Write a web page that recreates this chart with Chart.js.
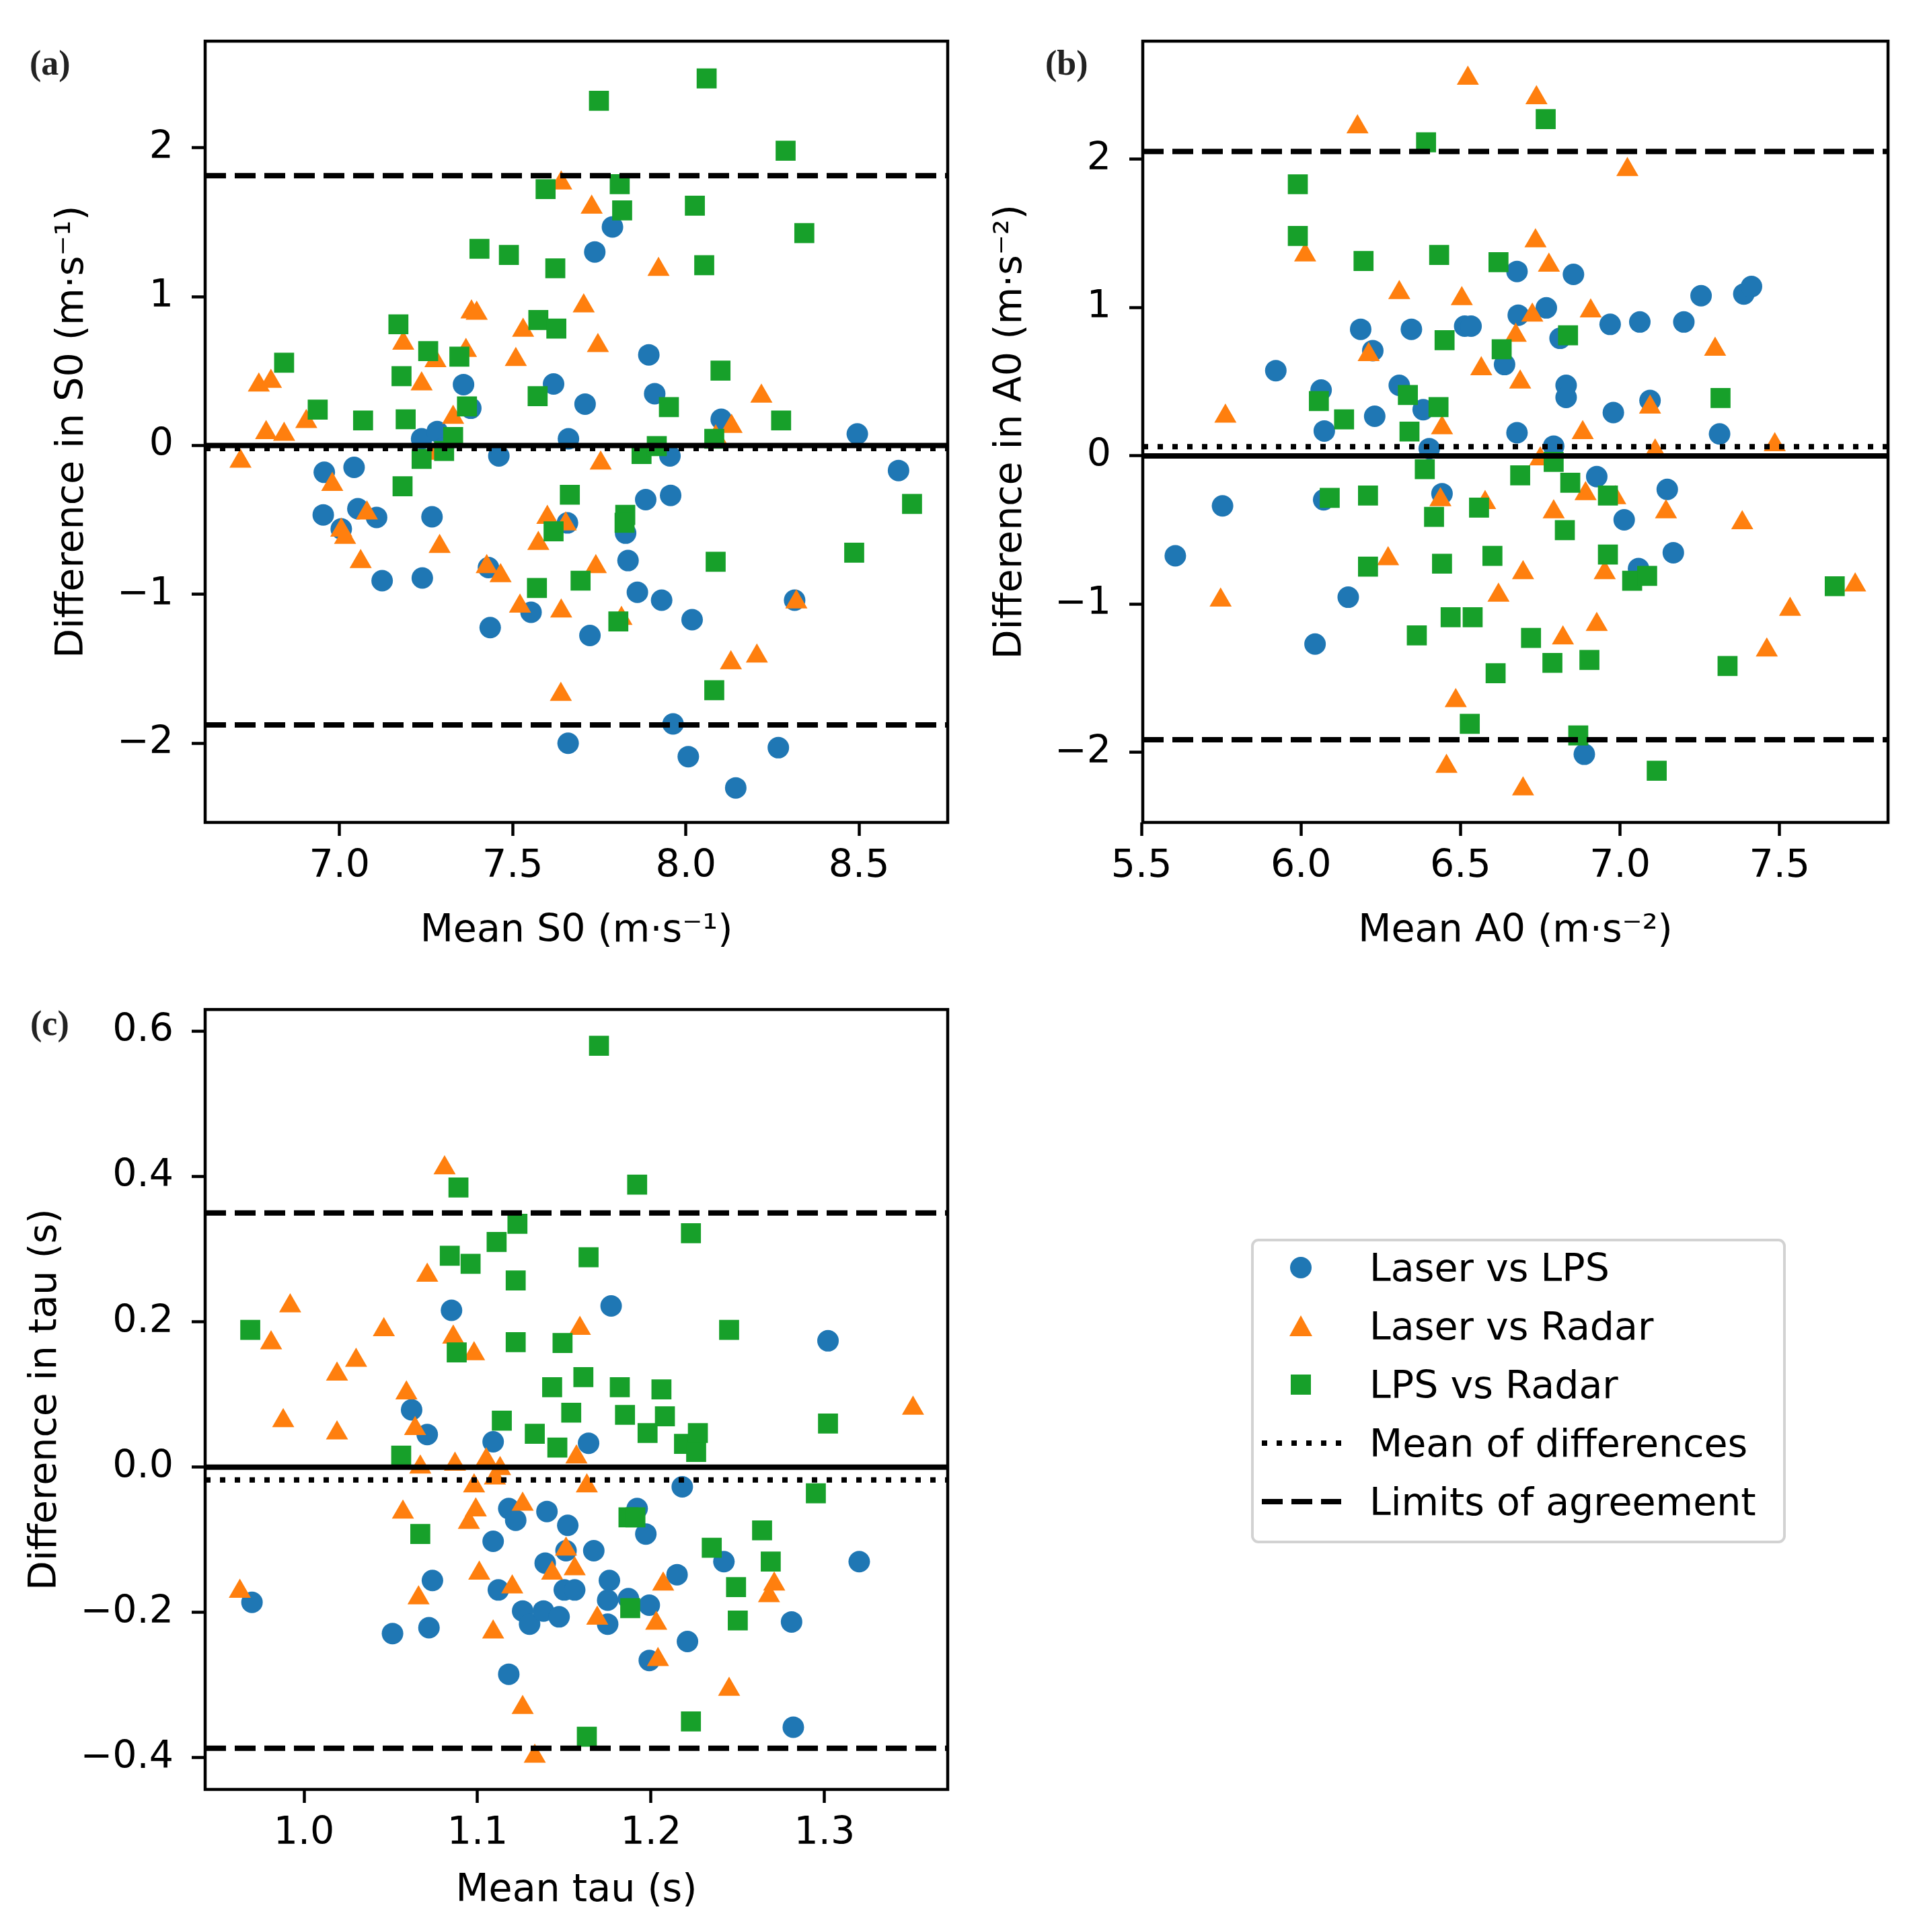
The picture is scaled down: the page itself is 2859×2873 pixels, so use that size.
<!DOCTYPE html>
<html>
<head>
<meta charset="utf-8">
<script src="https://cdn.jsdelivr.net/npm/chart.js@4.4.1/dist/chart.umd.min.js"></script>
<style>
  body { margin: 0; background: #fff; }
  #page { position: relative; width: 2859px; height: 2873px; overflow: hidden; background: #fff; }
  .panel { position: absolute; }
  .tag { position: absolute; font-family: "Liberation Serif", serif; font-weight: bold; font-size: 52px; line-height: 52px; color: #222; }
  #legend { position: absolute; left: 1860px; top: 1842px; width: 787px; height: 445px;
            border: 4px solid #d2d2d2; border-radius: 11px; background: #fff; }
  .row { position: absolute; left: 0; height: 70px; font-family: "DejaVu Sans", sans-serif; font-size: 57px; line-height: 70px; color: #000; white-space: nowrap; }
  .row svg { position: absolute; left: 8px; top: 0; }
  .row span { position: absolute; left: 172px; top: 0; }
</style>
</head>
<body>
<div id="page">
  <div class="panel" style="left:0;top:0"><canvas id="chartA" width="1430" height="1440"></canvas></div>
  <div class="panel" style="left:1430px;top:0"><canvas id="chartB" width="1429" height="1440"></canvas></div>
  <div class="panel" style="left:0;top:1440px"><canvas id="chartC" width="1430" height="1433"></canvas></div>
  <div class="tag" style="left:44px;top:68px">(a)</div>
  <div class="tag" style="left:1554px;top:68px">(b)</div>
  <div class="tag" style="left:45px;top:1496px">(c)</div>
  <div id="legend"></div>
</div>
<script>
// Series names and colours (matplotlib tab10)
const seriesNames = ['Laser vs LPS', 'Laser vs Radar', 'LPS vs Radar'];
const lineNames = ['Mean of differences', 'Limits of agreement'];
const blue = '#1f77b4', orange = '#ff7f0e', green = '#17a02a';

// ---- Panel (a): S0 ----
const laserLpsA = [[6.956,-0.18],[6.953,-0.466],[7.042,-0.147],[7.005,-0.56],[7.053,-0.425],[7.107,-0.483],
  [7.123,-0.908],[7.239,-0.89],[7.267,-0.479],[7.237,0.045],[7.282,0.094],[7.30,-0.016],[7.358,0.409],
  [7.379,0.25],[7.46,-0.07],[7.435,-1.223],[7.43,-0.82],[7.553,-1.12],[7.618,0.413],[7.658,-0.52],
  [7.661,0.045],[7.66,-2.0],[7.709,0.278],[7.723,-1.276],[7.737,1.30],[7.788,1.468],[7.826,-0.589],
  [7.833,-0.773],[7.86,-0.986],[7.884,-0.364],[7.893,0.609],[7.91,0.348],[7.93,-1.039],[7.954,-0.07],
  [7.956,-0.335],[7.963,-1.87],[8.007,-2.09],[8.018,-1.17],[8.102,0.176],[8.144,-2.30],[8.267,-2.03],
  [8.314,-1.039],[8.495,0.078],[8.614,-0.168]];
const laserRadarA = [[6.714,-0.106],[6.767,0.405],[6.802,0.43],[6.788,0.086],[6.84,0.074],[6.904,0.16],
  [6.979,-0.262],[7.005,-0.569],[7.016,-0.618],[7.061,-0.78],[7.079,-0.454],[7.184,0.687],[7.237,0.413],
  [7.277,0.569],[7.289,-0.679],[7.279,-0.053],[7.328,0.188],[7.365,0.638],[7.381,0.896],[7.396,0.888],
  [7.425,-0.814],[7.465,-0.875],[7.509,0.577],[7.53,0.773],[7.521,-1.08],[7.574,-0.658],[7.60,-0.483],
  [7.64,1.763],[7.64,-1.112],[7.653,-0.528],[7.639,-1.673],[7.705,0.937],[7.728,1.60],[7.746,0.671],
  [7.754,-0.119],[7.74,-0.814],[7.814,-1.162],[7.921,1.182],[8.086,0.057],[8.132,0.127],[8.13,-1.46],
  [8.205,-1.415],[8.218,0.331],[8.319,-1.051]];
const lpsRadarA = [[6.84,0.556],[6.937,0.241],[7.068,0.168],[7.17,0.814],[7.179,0.466],[7.191,0.176],
  [7.182,-0.274],[7.256,0.634],[7.237,-0.09],[7.302,-0.037],[7.346,0.597],[7.368,0.262],[7.328,0.057],
  [7.404,1.321],[7.489,1.28],[7.572,0.331],[7.574,0.843],[7.57,-0.957],[7.595,1.722],[7.623,1.19],
  [7.626,0.785],[7.618,-0.577],[7.665,-0.331],[7.696,-0.908],[7.749,2.315],[7.809,1.755],[7.816,1.579],
  [7.825,-0.466],[7.823,-0.519],[7.805,-1.182],[7.872,-0.057],[7.916,-0.004],[7.951,0.258],[8.026,1.611],
  [8.06,2.466],[8.053,1.211],[8.082,0.045],[8.10,0.503],[8.086,-0.781],[8.082,-1.644],[8.288,1.98],
  [8.275,0.168],[8.342,1.427],[8.486,-0.72],[8.653,-0.393]];
const meanA = -0.02, limitsA = [1.812, -1.877];
const xRangeA = [6.612, 8.756], yRangeA = [-2.532, 2.716];
const xTicksA = [7.0, 7.5, 8.0, 8.5], xLabelsA = ['7.0', '7.5', '8.0', '8.5'];
const yTicksA = [-2, -1, 0, 1, 2], yLabelsA = ['\u22122', '\u22121', '0', '1', '2'];

// ---- Panel (b): A0 ----
const laserLpsB = [[5.606,-0.674],[5.754,-0.337],[5.921,0.575],[6.063,0.444],[6.073,0.168],[6.071,-0.296],
  [6.044,-1.269],[6.148,-0.953],[6.187,0.854],[6.225,0.71],[6.231,0.267],[6.308,0.476],[6.346,0.854],
  [6.383,0.312],[6.402,0.049],[6.442,-0.255],[6.513,0.875],[6.533,0.875],[6.638,0.616],[6.677,1.244],
  [6.681,0.949],[6.677,0.156],[6.769,0.998],[6.792,0.066],[6.812,0.793],[6.831,0.476],[6.831,0.394],
  [6.854,1.224],[6.888,-2.012],[6.927,-0.14],[6.969,0.887],[6.979,0.292],[7.013,-0.431],[7.062,0.903],
  [7.058,-0.76],[7.094,0.374],[7.148,-0.226],[7.167,-0.653],[7.20,0.903],[7.254,1.08],[7.312,0.148],
  [7.388,1.092],[7.412,1.142]];
const laserRadarB = [[5.748,-0.973],[5.763,0.267],[6.013,1.355],[6.177,2.218],[6.212,0.682],[6.273,-0.694],
  [6.308,1.101],[6.442,0.189],[6.437,-0.296],[6.456,-2.094],[6.485,-1.651],[6.504,1.06],[6.523,2.546],
  [6.565,0.587],[6.577,-0.316],[6.619,-0.94],[6.673,0.813],[6.687,0.497],[6.696,-0.788],[6.696,-2.246],
  [6.725,0.949],[6.735,1.45],[6.738,2.415],[6.75,-0.021],[6.777,1.285],[6.792,-0.378],[6.821,-1.228],
  [6.883,0.156],[6.892,-0.255],[6.908,0.977],[6.927,-1.138],[6.952,-0.788],[6.985,-0.283],[7.023,1.93],
  [7.094,0.329],[7.11,0.033],[7.144,-0.378],[7.298,0.719],[7.383,-0.452],[7.46,-1.31],[7.485,0.074],
  [7.533,-1.035],[7.737,-0.871]];
const lpsRadarB = [[5.99,1.832],[5.99,1.483],[6.056,0.37],[6.09,-0.283],[6.135,0.246],[6.196,1.314],
  [6.21,-0.267],[6.21,-0.747],[6.335,0.411],[6.34,0.164],[6.363,-1.211],[6.388,-0.09],[6.392,2.115],
  [6.417,-0.411],[6.433,1.355],[6.431,0.329],[6.442,-0.727],[6.45,0.78],[6.469,-1.088],[6.529,-1.807],
  [6.538,-1.088],[6.558,-0.349],[6.60,-0.674],[6.61,-1.466],[6.619,1.306],[6.629,0.719],[6.687,-0.131],
  [6.721,-1.228],[6.767,2.271],[6.788,-1.396],[6.792,-0.041],[6.827,-0.501],[6.837,0.813],[6.844,-0.181],
  [6.869,-1.885],[6.904,-1.376],[6.962,-0.267],[6.962,-0.665],[7.038,-0.842],[7.085,-0.809],[7.115,-2.123],
  [7.315,0.39],[7.337,-1.417],[7.673,-0.879]];
const meanB = 0.062, limitsB = [2.053, -1.914];
const xRangeB = [5.504, 7.84], yRangeB = [-2.472, 2.797];
const xTicksB = [5.5, 6.0, 6.5, 7.0, 7.5], xLabelsB = ['5.5', '6.0', '6.5', '7.0', '7.5'];
const yTicksB = [-2, -1, 0, 1, 2], yLabelsB = ['\u22122', '\u22121', '0', '1', '2'];

// ---- Panel (c): tau ----
const laserLpsC = [[0.970,-0.186],[1.051,-0.229],[1.062,0.079],[1.071,0.045],[1.074,-0.156],[1.072,-0.221],
  [1.085,0.216],[1.109,0.035],[1.109,-0.102],[1.112,-0.169],[1.118,-0.285],[1.118,-0.057],[1.122,-0.073],
  [1.126,-0.198],[1.130,-0.216],[1.138,-0.198],[1.139,-0.132],[1.140,-0.061],[1.147,-0.206],[1.152,-0.08],
  [1.150,-0.169],[1.156,-0.169],[1.151,-0.115],[1.164,0.033],[1.167,-0.115],[1.175,-0.216],[1.176,-0.156],
  [1.175,-0.183],[1.177,0.222],[1.187,-0.181],[1.192,-0.057],[1.197,-0.092],[1.199,-0.19],[1.199,-0.266],
  [1.215,-0.148],[1.218,-0.027],[1.221,-0.24],[1.242,-0.13],[1.281,-0.213],[1.282,-0.358],[1.302,0.174],
  [1.320,-0.13]];
const laserRadarC = [[0.963,-0.171],[0.981,0.171],[0.988,0.064],[0.992,0.222],[1.019,0.128],[1.019,0.047],
  [1.030,0.147],[1.046,0.189],[1.059,0.102],[1.057,-0.062],[1.064,0.053],[1.067,0.0],[1.066,-0.18],
  [1.071,0.264],[1.081,0.412],[1.086,0.179],[1.087,0.004],[1.098,0.156],[1.098,-0.026],[1.095,-0.076],
  [1.099,-0.059],[1.101,-0.146],[1.105,0.01],[1.109,-0.227],[1.113,-0.002],[1.11,-0.015],[1.120,-0.165],
  [1.126,-0.051],[1.126,-0.331],[1.133,-0.398],[1.143,-0.146],[1.151,-0.113],[1.156,-0.14],[1.157,0.014],
  [1.159,0.191],[1.163,-0.026],[1.169,-0.208],[1.203,-0.215],[1.204,-0.265],[1.207,-0.161],[1.245,-0.306],
  [1.268,-0.177],[1.271,-0.161],[1.351,0.081]];
const lpsRadarC = [[0.969,0.189],[1.056,0.016],[1.067,-0.092],[1.084,0.291],[1.088,0.158],[1.089,0.385],
  [1.096,0.28],[1.111,0.31],[1.114,0.064],[1.123,0.335],[1.122,0.257],[1.122,0.172],[1.133,0.046],
  [1.143,0.11],[1.146,0.027],[1.149,0.171],[1.154,0.075],[1.161,0.124],[1.163,-0.371],[1.164,0.289],
  [1.170,0.58],[1.182,0.11],[1.185,0.072],[1.187,-0.069],[1.191,-0.069],[1.188,-0.194],[1.192,0.389],
  [1.198,0.047],[1.206,0.107],[1.208,0.07],[1.219,0.032],[1.223,0.322],[1.223,-0.35],[1.226,0.021],
  [1.227,0.047],[1.235,-0.111],[1.245,0.189],[1.249,-0.165],[1.250,-0.211],[1.264,-0.087],[1.269,-0.13],
  [1.295,-0.036],[1.302,0.06]];
const meanC = -0.0175, limitsC = [0.350, -0.387];
const xRangeC = [0.943, 1.371], yRangeC = [-0.4436, 0.630];
const xTicksC = [1.0, 1.1, 1.2, 1.3], xLabelsC = ['1.0', '1.1', '1.2', '1.3'];
const yTicksC = [-0.4, -0.2, 0.0, 0.2, 0.4, 0.6], yLabelsC = ['\u22120.4', '\u22120.2', '0.0', '0.2', '0.4', '0.6'];

const FONT = { family: 'DejaVu Sans', size: 57 };

// draws the four spines like matplotlib
const framePlugin = {
  id: 'frame',
  afterDatasetsDraw(chart) {
    const { ctx, chartArea: a } = chart;
    ctx.save();
    ctx.strokeStyle = '#000';
    ctx.lineWidth = 4.5;
    ctx.strokeRect(a.left, a.top, a.right - a.left, a.bottom - a.top);
    ctx.restore();
  }
};

function pts(list) {
  return list.map(p => ({ x: p[0], y: p[1] }));
}

function hline(xr, y, width, dash, order) {
  return {
    data: [{ x: xr[0], y: y }, { x: xr[1], y: y }],
    showLine: true, borderColor: '#000', borderWidth: width, borderDash: dash,
    borderCapStyle: 'butt', pointRadius: 0, order: order
  };
}

function markers(list, color, style, radius, order) {
  return {
    data: pts(list), backgroundColor: color, borderColor: color,
    pointStyle: style, pointRadius: radius, pointBorderWidth: 0, borderWidth: 0, order: order
  };
}

function makePanel(id, p) {
  const tickGrid = { display: true, drawOnChartArea: false, drawTicks: true, tickLength: 20, tickWidth: 4.5, tickColor: '#000', color: '#000' };
  new Chart(document.getElementById(id), {
    type: 'scatter',
    data: {
      datasets: [
        hline(p.xr, 0, 8, [], 0),
        hline(p.xr, p.mean, 8, [8, 14], 0),
        hline(p.xr, p.limits[0], 8, [31, 13], 0),
        hline(p.xr, p.limits[1], 8, [31, 13], 0),
        markers(p.lpsRadar, green, 'rect', 21, 1),
        markers(p.laserRadar, orange, 'triangle', 19, 2),
        markers(p.laserLps, blue, 'circle', 16, 3)
      ]
    },
    options: {
      responsive: false,
      animation: false,
      devicePixelRatio: 1,
      layout: { padding: p.pad },
      plugins: { legend: { display: false }, tooltip: { enabled: false } },
      scales: {
        x: {
          type: 'linear', position: 'bottom', min: p.xr[0], max: p.xr[1],
          afterFit: s => { s.height = p.xH; },
          afterBuildTicks: s => { s.ticks = p.xTicks.map(v => ({ value: v })); },
          ticks: { callback: (v, i) => p.xLabels[i], font: FONT, color: '#000', padding: 12, maxRotation: 0, autoSkip: false },
          grid: tickGrid,
          border: { display: false },
          title: { display: true, text: p.xTitle, font: FONT, color: '#000', padding: { top: 0, bottom: p.xTitlePad } }
        },
        y: {
          type: 'linear', position: 'left', min: p.yr[0], max: p.yr[1],
          afterFit: s => { s.width = p.yW; },
          afterBuildTicks: s => { s.ticks = p.yTicks.map(v => ({ value: v })); },
          ticks: { callback: (v, i) => p.yLabels[i], font: FONT, color: '#000', padding: 27, autoSkip: false },
          grid: tickGrid,
          border: { display: false },
          title: { display: true, text: p.yTitle, font: FONT, color: '#000', padding: { top: p.yTitlePad, bottom: 0 } }
        }
      }
    },
    plugins: [framePlugin]
  });
}

makePanel('chartA', {
  laserLps: laserLpsA, laserRadar: laserRadarA, lpsRadar: lpsRadarA,
  mean: meanA, limits: limitsA, xr: xRangeA, yr: yRangeA,
  xTicks: xTicksA, xLabels: xLabelsA, yTicks: yTicksA, yLabels: yLabelsA,
  xTitle: 'Mean S0 (m\u00b7s\u207b\u00b9)', yTitle: 'Difference in S0 (m\u00b7s\u207b\u00b9)',
  pad: { left: 0, top: 42, right: 12, bottom: 0 }, xH: 217, yW: 305, xTitlePad: 21, yTitlePad: 74
});

makePanel('chartB', {
  laserLps: laserLpsB, laserRadar: laserRadarB, lpsRadar: lpsRadarB,
  mean: meanB, limits: limitsB, xr: xRangeB, yr: yRangeB,
  xTicks: xTicksB, xLabels: xLabelsB, yTicks: yTicksB, yLabels: yLabelsB,
  xTitle: 'Mean A0 (m\u00b7s\u207b\u00b2)', yTitle: 'Difference in A0 (m\u00b7s\u207b\u00b2)',
  pad: { left: 0, top: 42, right: 52, bottom: 0 }, xH: 217, yW: 269, xTitlePad: 21, yTitlePad: 39
});

makePanel('chartC', {
  laserLps: laserLpsC, laserRadar: laserRadarC, lpsRadar: lpsRadarC,
  mean: meanC, limits: limitsC, xr: xRangeC, yr: yRangeC,
  xTicks: xTicksC, xLabels: xLabelsC, yTicks: yTicksC, yLabels: yLabelsC,
  xTitle: 'Mean tau (s)', yTitle: 'Difference in tau (s)',
  pad: { left: 0, top: 39, right: 12, bottom: 0 }, xH: 212, yW: 305, xTitlePad: 27, yTitlePad: 34
});

// legend, matplotlib style
const icons = [
  '<circle cx="62" cy="35" r="16" fill="' + blue + '"/>',
  '<polygon points="62,19 79,50 45,50" fill="' + orange + '"/>',
  '<rect x="47" y="20" width="30" height="30" fill="' + green + '"/>',
  '<line x1="4" y1="35" x2="122" y2="35" stroke="#000" stroke-width="8" stroke-dasharray="8,14"/>',
  '<line x1="4" y1="35" x2="122" y2="35" stroke="#000" stroke-width="8" stroke-dasharray="31,13"/>'
];
const labels = seriesNames.concat(lineNames);
const legend = document.getElementById('legend');
labels.forEach((name, i) => {
  const row = document.createElement('div');
  row.className = 'row';
  row.style.top = (4 + i * 87) + 'px';
  row.style.width = '780px';
  row.innerHTML = '<svg width="130" height="70">' + icons[i] + '</svg><span></span>';
  row.querySelector('span').textContent = name;
  legend.appendChild(row);
});
</script>
</body>
</html>
